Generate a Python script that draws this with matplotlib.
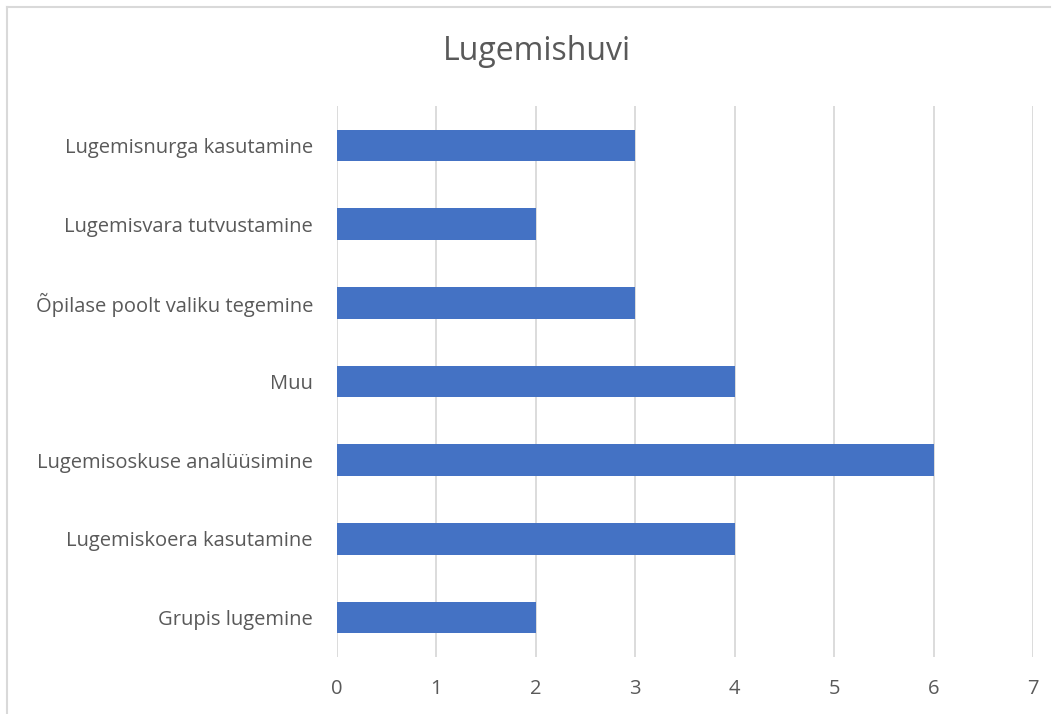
import matplotlib
matplotlib.use("Agg")
import matplotlib.pyplot as plt
from matplotlib.lines import Line2D

categories = ["Grupis lugemine", "Lugemiskoera kasutamine", "Lugemisoskuse analüüsimine",
              "Muu", "Õpilase poolt valiku tegemine", "Lugemisvara tutvustamine",
              "Lugemisnurga kasutamine"]
values = [2, 4, 6, 4, 3, 2, 3]
xticks = [0, 1, 2, 3, 4, 5, 6, 7]
title = "Lugemishuvi"

plt.rcParams['font.family'] = ['Open Sans', 'DejaVu Sans']
text_color = "#595959"
grid_color = "#d9d9d9"

fig = plt.figure(figsize=(10.55, 7.14), dpi=100)
ax = fig.add_axes([336.5/1055, 1-657/714, (1033-336.5)/1055, (657-106)/714])

ax.barh(range(len(categories)), values, height=0.4, color="#4472C4", zorder=3)
ax.set_xlim(0, 7)
ax.set_ylim(-0.5, len(categories)-0.5)
ax.set_xticks(xticks)
ax.set_yticks(range(len(categories)))
ax.set_yticklabels(categories)
ax.grid(axis='x', color=grid_color, linewidth=1.3, zorder=0)
for s in ax.spines.values():
    s.set_visible(False)
ax.tick_params(axis='both', length=0, colors=text_color, labelsize=14.5)
ax.tick_params(axis='y', pad=17)
ax.tick_params(axis='x', pad=16)

fig.text(537/1055, 1-51/714, title, ha='center', va='center', fontsize=23, color=text_color)

# outer chart border (top and left visible)
fig.add_artist(Line2D([7/1055, 1050/1055], [1-7/714, 1-7/714], color=grid_color, linewidth=1.5, transform=fig.transFigure))
fig.add_artist(Line2D([7/1055, 7/1055], [1-7/714, 0], color=grid_color, linewidth=1.5, transform=fig.transFigure))

fig.savefig("out.png", dpi=100)
